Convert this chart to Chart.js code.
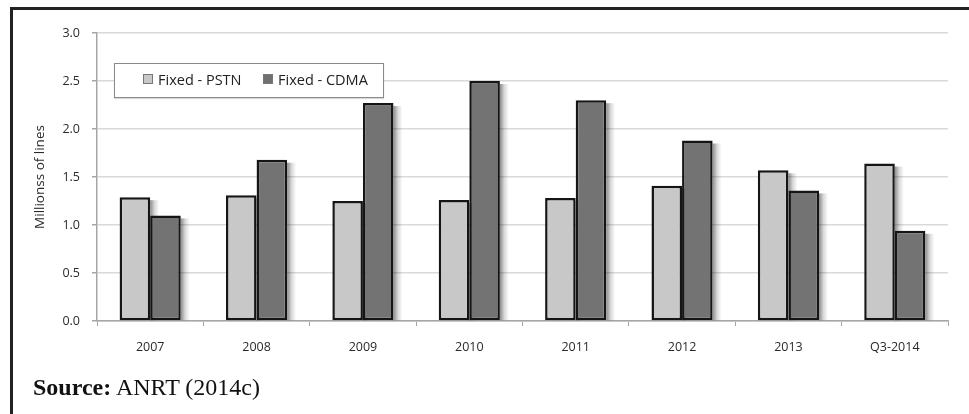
<!DOCTYPE html>
<html>
<head>
<meta charset="utf-8">
<script src="https://cdn.jsdelivr.net/npm/chart.js@4/dist/chart.umd.min.js"></script>
<style>
  html, body { margin: 0; padding: 0; background: #fff; }
  #wrap { position: relative; width: 969px; height: 414px; overflow: hidden; }
  #frame { position: absolute; left: 10px; top: 7px; right: -10px; bottom: -10px;
           border-top: 3px solid #222; border-left: 3px solid #222; }
  #chart { position: absolute; left: 0; top: 0; }
  #legend { position: absolute; left: 114px; top: 63px; width: 268px; height: 33px;
            border: 1px solid #8a8a8a; background: #fff; box-shadow: 0 1px 1px rgba(0,0,0,0.15);
            font-family: "Open Sans", sans-serif; font-size: 14.5px; color: #222; }
  .item { position: absolute; top: 7px; line-height: 18px; white-space: nowrap; }
  .sw { display: inline-block; width: 8px; height: 8px; border: 1px solid #777; margin-right: 5px; vertical-align: 1px; }
  #source { position: absolute; left: 33px; top: 374px; font-family: "Liberation Serif", "Times New Roman", serif;
            font-size: 24px; color: #111; white-space: nowrap; }
</style>
</head>
<body>
<div id="wrap">
  <div id="frame"></div>
  <canvas id="chart" width="969" height="414"></canvas>
  <div id="legend">
    <span class="item" style="left:28px"><span class="sw" style="background:#c8c8c8"></span>Fixed - PSTN</span>
    <span class="item" style="left:148px"><span class="sw" style="background:#707070"></span>Fixed - CDMA</span>
  </div>
  <div id="source"><b>Source:</b> ANRT (2014c)</div>
</div>
<script>
const categories = ["2007", "2008", "2009", "2010", "2011", "2012", "2013", "Q3-2014"];
const fixedPSTN = [1.29, 1.31, 1.25, 1.26, 1.28, 1.41, 1.57, 1.64];
const fixedCDMA = [1.10, 1.68, 2.27, 2.50, 2.30, 1.88, 1.36, 0.94];
const yTicks = [0.0, 0.5, 1.0, 1.5, 2.0, 2.5, 3.0];

// soft shadow strip on the right side of every bar, painted before the bars
const barShadow = {
  id: 'barShadow',
  beforeDatasetsDraw(chart) {
    const ctx = chart.ctx;
    ctx.save();
    chart.data.datasets.forEach((ds, i) => {
      chart.getDatasetMeta(i).data.forEach(bar => {
        const { x, y, base, width } = bar.getProps(['x', 'y', 'base', 'width'], true);
        const right = x + width / 2;
        const g = ctx.createLinearGradient(right, 0, right + 9, 0);
        g.addColorStop(0, 'rgba(0,0,0,0.45)');
        g.addColorStop(0.5, 'rgba(0,0,0,0.15)');
        g.addColorStop(1, 'rgba(0,0,0,0)');
        ctx.fillStyle = g;
        ctx.fillRect(right, y + 3, 9, base - y - 3);
      });
    });
    ctx.restore();
  }
};

new Chart(document.getElementById('chart'), {
  type: 'bar',
  data: {
    labels: categories,
    datasets: [
      { label: 'Fixed - PSTN', data: fixedPSTN, backgroundColor: '#c8c8c8',
        borderColor: '#151515', borderWidth: 2.5, borderSkipped: false },
      { label: 'Fixed - CDMA', data: fixedCDMA, backgroundColor: '#737373',
        borderColor: '#151515', borderWidth: 2.5, borderSkipped: false }
    ]
  },
  options: {
    responsive: false,
    animation: false,
    devicePixelRatio: 1,
    layout: { padding: { left: 30, top: 33, right: 21, bottom: 0 } },
    plugins: { legend: { display: false }, tooltip: { enabled: false } },
    datasets: { bar: { categoryPercentage: 0.575, barPercentage: 1.0 } },
    scales: {
      x: {
        offset: true,
        grid: { display: true, drawOnChartArea: false, drawTicks: true, tickLength: 5, color: '#a6a6a6', offset: true },
        border: { display: true, color: '#a6a6a6', width: 1.5 },
        ticks: { color: '#2a2a2a', font: { family: 'Open Sans', size: 12.5 }, padding: 14, maxRotation: 0 },
        afterFit(scale) { scale.height = 93; }
      },
      y: {
        min: 0, max: 3,
        afterBuildTicks(scale) { scale.ticks = yTicks.map(v => ({ value: v })); },
        grid: { color: '#d9d9d9', lineWidth: 1.5, drawTicks: true, tickLength: 5, tickColor: '#a6a6a6' },
        border: { display: true, color: '#a6a6a6', width: 1.5 },
        ticks: { color: '#2a2a2a', font: { family: 'Open Sans', size: 12.5 }, padding: 12,
                 callback: v => Number(v).toFixed(1) },
        title: { display: true, text: 'Millionss of lines', color: '#2a2a2a',
                 font: { family: 'Open Sans', size: 13.5 }, padding: { top: 2, bottom: 4 } },
        afterFit(scale) { scale.width = 67; }
      }
    }
  },
  plugins: [barShadow]
});
</script>
</body>
</html>
